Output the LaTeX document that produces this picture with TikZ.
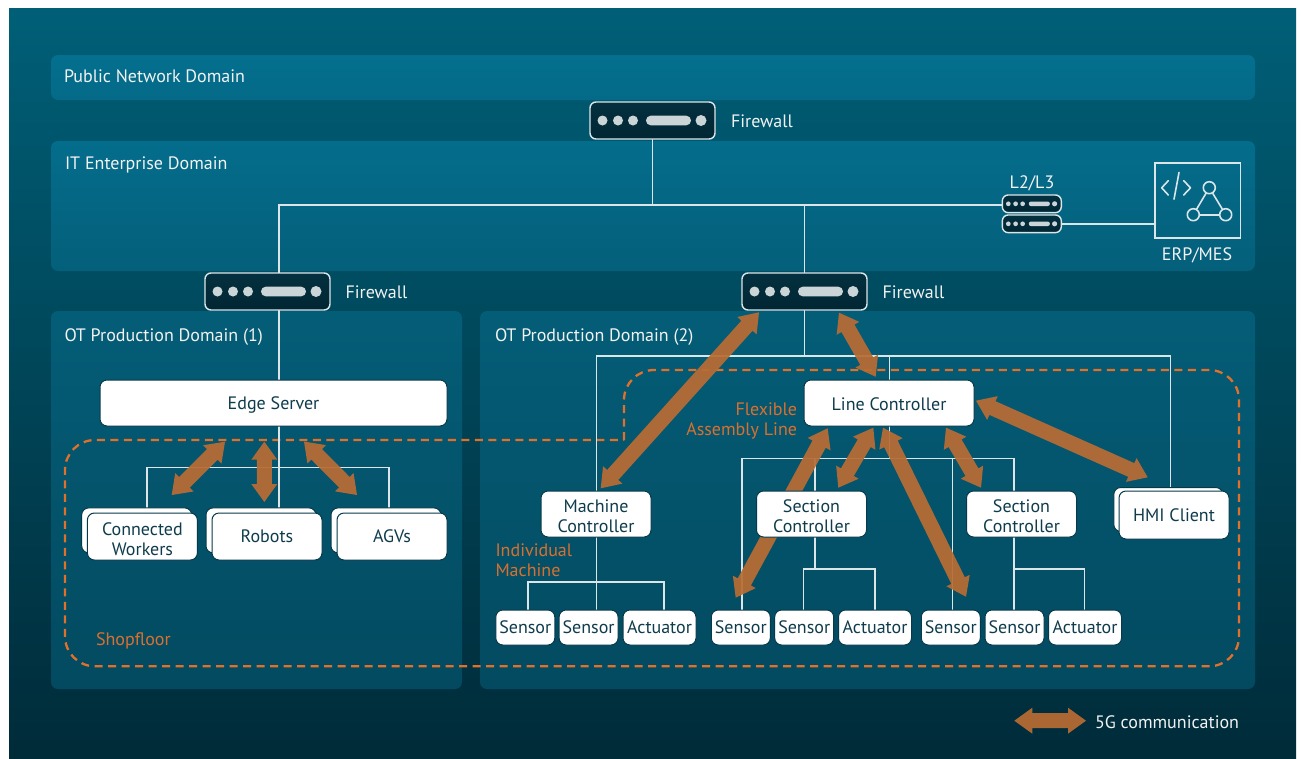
\documentclass[tikz,border=0pt]{standalone}
\usepackage{fontspec}
\setmainfont{PT Sans}
\usetikzlibrary{calc,backgrounds}
\definecolor{linecol}{HTML}{DCE6E9}
\definecolor{dotcol}{HTML}{CBD5D8}
\definecolor{inkcol}{HTML}{0F3C4D}
\definecolor{edgecol}{HTML}{06394A}
\definecolor{orangecol}{HTML}{E0702A}
\definecolor{labelorange}{HTML}{D9702F}
\definecolor{fivecol}{HTML}{B86C33}
\pgfdeclarelayer{bgl}\pgfdeclarelayer{linel}\pgfdeclarelayer{arrowl}
\pgfsetlayers{bgl,linel,arrowl,main}
\definecolor{ittop}{HTML}{046D8C}
\definecolor{itbot}{HTML}{045F7A}
\definecolor{devtop}{HTML}{04303F}
\definecolor{devbot}{HTML}{012633}
\definecolor{frametop}{HTML}{005F77}
\definecolor{framebot}{HTML}{002B39}
\definecolor{pubtop}{HTML}{046F8F}
\definecolor{pubbot}{HTML}{046A88}
\definecolor{ottop}{HTML}{045D77}
\definecolor{otbot}{HTML}{034A60}
\newcommand\lowA{\rule{0pt}{17.5pt}}
\newcommand\lowB{\rule{0pt}{15.5pt}}
\tikzset{
  panel/.style={rounded corners=7pt,anchor=north west,inner sep=0pt,outer sep=0pt},
  lbl/.style={font=\fontsize{18}{20}\selectfont,text=white!95!black,inner sep=0pt,outer sep=0pt},
  orangelbl/.style={font=\fontsize{18}{20}\selectfont,text=labelorange,inner sep=0pt,outer sep=0pt},
  wire/.style={draw=linecol,line width=1.4pt},
  whitebox/.style={draw=edgecol,fill=white,line width=1pt,rounded corners=7pt,inner sep=0pt,outer sep=0pt,
     align=center,text=inkcol,font=\fontsize{18}{20}\selectfont},
  devbox/.style={draw=linecol,line width=1.4pt,rounded corners=6pt,inner sep=0pt,outer sep=0pt,top color=devtop,bottom color=devbot},
  devmark/.style={fill=dotcol},
  icon/.style={draw=linecol,line width=1.6pt,line cap=round,line join=round},
  shop/.style={draw=orangecol,line width=2.3pt,dash pattern=on 8pt off 5.5pt},
  fiveg/.style={fill=fivecol,fill opacity=0.93,draw=none},
}
% box with coloured marks: name, x, y, w, h, scale
\newcommand\devicebox[6]{%
  \node[devbox,minimum width=#4pt,minimum height=#5pt] (#1) at (#2,#3) {};
  \begin{scope}[shift={(#1.center)},scale=#6]
    \fill[devmark] (-50,0) circle[radius=5] (-34.5,0) circle[radius=5] (-19.5,0) circle[radius=5] (48.5,0) circle[radius=5.5];
    \fill[devmark,rounded corners=#6*4.7pt] (-6.5,-4.8) rectangle (38.5,4.8);
  \end{scope}}
% double arrow between two named points
\newcommand\fivegarrow[2]{%
  \fill[fiveg]
    (#1)
    -- ($(#1)!18pt!(#2)!13pt!90:(#2)$)
    -- ($(#1)!18pt!(#2)!7.5pt!90:(#2)$)
    -- ($(#2)!18pt!(#1)!7.5pt!-90:(#1)$)
    -- ($(#2)!18pt!(#1)!13pt!-90:(#1)$)
    -- (#2)
    -- ($(#2)!18pt!(#1)!13pt!90:(#1)$)
    -- ($(#2)!18pt!(#1)!7.5pt!90:(#1)$)
    -- ($(#1)!18pt!(#2)!7.5pt!-90:(#2)$)
    -- ($(#1)!18pt!(#2)!13pt!-90:(#2)$)
    -- cycle;}
\begin{document}
\begin{tikzpicture}[x=1pt,y=-1pt]
\useasboundingbox (0,0) rectangle (1301,758);
\begin{pgfonlayer}{bgl}
  \fill[white] (0,0) rectangle (1301,758);
  \shade[top color=frametop,bottom color=framebot] (9,8) rectangle (1296,758);
  \node[panel,top color=pubtop,bottom color=pubbot,minimum width=1204pt,minimum height=45pt] (public) at (51,55) {};
  \node[panel,top color=ittop,bottom color=itbot,minimum width=1204pt,minimum height=130pt] (itdom) at (51,141) {};
  \node[panel,top color=ottop,bottom color=otbot,minimum width=411pt,minimum height=378pt] (ot1) at (51,311) {};
  \node[panel,top color=ottop,bottom color=otbot,minimum width=775pt,minimum height=378pt] (ot2) at (480,311) {};
\end{pgfonlayer}

% labels
\node[lbl,anchor=west] (tpublic) at (64,76) {Public Network Domain};
\node[lbl,anchor=west] (tit) at (65,165) {IT Enterprise Domain};
\node[lbl,anchor=west] (tot1) at (64.5,337) {OT Production Domain (1)};
\node[lbl,anchor=west] (tot2) at (495,337) {OT Production Domain (2)};
\node[lbl,anchor=west] (tfw0) at (731,121.5) {Firewall};
\node[lbl,anchor=west] (tfw1) at (345.5,292.5) {Firewall};
\node[lbl,anchor=west] (tfw2) at (882.5,292.5) {Firewall};
\node[lbl] (tl2) at (1032,183) {L2/L3};
\node[lbl] (terp) at (1197,255) {ERP/MES};
\node[lbl,anchor=west] (t5g) at (1095,722) {5G communication};
\node[orangelbl,anchor=west] (tshop) at (96,641) {Shopfloor};
\node[orangelbl,align=right,anchor=east] (tflex) at (797,421) {Flexible\\Assembly Line};
\node[orangelbl,align=left,anchor=west] (tind) at (495.5,560) {Individual\\Machine};

% devices
\devicebox{fw0}{652.5}{120.5}{125}{37}{1}
\devicebox{fw1}{267.5}{291.5}{125}{37}{1}
\devicebox{fw2}{804.5}{291.5}{125}{37}{1}
\devicebox{swa}{1031.8}{203.8}{59}{17.7}{0.47}
\devicebox{swb}{1031.8}{223.8}{59}{17.7}{0.47}

% ERP box
\node[draw=linecol,line width=1.6pt,minimum width=85.6pt,minimum height=75pt,inner sep=0pt,outer sep=0pt] (erp) at (1197.5,200.2) {};
\draw[icon] (1168.3,180.7) -- (1161.7,187.8) -- (1168.3,195);
\draw[icon] (1183.7,180.7) -- (1190.5,187.8) -- (1183.7,195);
\draw[icon] (1179,172.5) -- (1174,199.2);
\node[icon,circle,minimum size=12pt,inner sep=0pt] (ca) at (1209.3,187.7) {};
\node[icon,circle,minimum size=12pt,inner sep=0pt] (cb) at (1193.3,214.7) {};
\node[icon,circle,minimum size=12pt,inner sep=0pt] (cc) at (1225.7,214.7) {};
\draw[icon] (ca) -- (cb); \draw[icon] (cb) -- (cc); \draw[icon] (cc) -- (ca);

% white boxes
\node[whitebox,minimum width=347pt,minimum height=46pt] (edge) at (273.5,403) {\lowA Edge Server};
\node[whitebox,minimum width=110pt,minimum height=45pt] (workersb) at (136.7,530.4) {};
\node[whitebox,minimum width=110pt,minimum height=47pt] (workers) at (142.4,536.5) {\lowA Connected\\Workers};
\node[whitebox,minimum width=110pt,minimum height=45pt] (robotsb) at (261,530.4) {};
\node[whitebox,minimum width=110pt,minimum height=47pt] (robots) at (267,536.5) {Robots};
\node[whitebox,minimum width=110pt,minimum height=45pt] (agvsb) at (386,530.4) {};
\node[whitebox,minimum width=110pt,minimum height=47pt] (agvs) at (392,536.5) {AGVs};
\node[whitebox,minimum width=170pt,minimum height=46pt] (line) at (889,403) {\lowB Line Controller};
\node[whitebox,minimum width=110pt,minimum height=46pt] (mc) at (596,514) {\lowA Machine\\Controller};
\node[whitebox,minimum width=110pt,minimum height=46pt] (sc1) at (811.5,514) {\lowA Section\\Controller};
\node[whitebox,minimum width=110pt,minimum height=46pt] (sc2) at (1021.5,514) {\lowA Section\\Controller};
\node[whitebox,minimum width=109pt,minimum height=44pt] (hmib) at (1168.3,509.5) {};
\node[whitebox,minimum width=110pt,minimum height=48pt] (hmi) at (1174,515) {HMI Client};
\tikzset{sens/.style={whitebox,minimum width=59pt,minimum height=35pt},actu/.style={whitebox,minimum width=73pt,minimum height=35pt}}
\node[sens] (s1) at (525.3,627.5) {Sensor};
\node[sens] (s2) at (588.6,627.5) {Sensor};
\node[actu] (a1) at (659.5,627.5) {Actuator};
\node[sens] (s3) at (740.8,627.5) {Sensor};
\node[sens] (s4) at (804.2,627.5) {Sensor};
\node[actu] (a2) at (875,627.5) {Actuator};
\node[sens] (s5) at (950.8,627.5) {Sensor};
\node[sens] (s6) at (1014.5,627.5) {Sensor};
\node[actu] (a3) at (1085,627.5) {Actuator};

% rails
\coordinate (ritroot) at (652.5,205);
\coordinate (ritl) at (279,205);
\coordinate (ritr) at (804.3,205);
\coordinate (redge) at (147,467.7);
\coordinate (redgem) at (279,467.7);
\coordinate (redger) at (389,467.7);
\coordinate (rot) at (804.3,356);
\coordinate (rotl) at (596.6,356);
\coordinate (rotm) at (889.3,356);
\coordinate (rotr) at (1170.7,356);
\coordinate (rline) at (889.3,458.5);
\coordinate (rlinea) at (742,458.5);
\coordinate (rlineb) at (815,458.5);
\coordinate (rlinec) at (952.5,458.5);
\coordinate (rlined) at (1013.8,458.5);
\coordinate (rmc) at (596.6,582);
\coordinate (rmca) at (528,582);
\coordinate (rmcb) at (663.8,582);
\coordinate (rsc1) at (815,569);
\coordinate (rsc1a) at (803.3,569);
\coordinate (rsc1b) at (875,569);
\coordinate (rsc2) at (1013.8,569);
\coordinate (rsc2b) at (1084.7,569);

\begin{pgfonlayer}{linel}
  % shopfloor boundary
  \draw[shop,rounded corners=30pt] (624,440) -- (624,370) -- (1239,370) -- (1239,666.3) -- (65,666.3) -- (65,440) [sharp corners] -- (624,440);
  % IT domain
  \draw[wire] (fw0.south -| ritroot) -- (ritroot);
  \draw[wire] (fw1.north -| ritl) |- (swa.west |- ritl);
  \draw[wire] (ritr) -- (fw2.north -| ritr);
  \draw[wire] (swb.east) -- (erp.west |- swb.east);
  % OT 1
  \draw[wire] (fw1.south -| ritl) -- (edge.north -| ritl);
  \draw[wire] (edge.south -| redgem) -- (robotsb.north -| redgem);
  \draw[wire] (workersb.north -| redge) |- (redgem) -| (agvsb.north -| redger);
  % OT 2
  \draw[wire] (fw2.south -| rot) -- (rot);
  \draw[wire] (mc.north -| rotl) |- (rotr) -- (hmib.north -| rotr);
  \draw[wire] (rotm) -- (line.north -| rotm);
  \draw[wire] (line.south -| rline) -- (rline);
  \draw[wire] (s3.north -| rlinea) |- (rlined) -- (sc2.north -| rlined);
  \draw[wire] (rlineb) -- (sc1.north -| rlineb);
  \draw[wire] (rlinec) -- (s5.north -| rlinec);
  \draw[wire] (mc.south -| rmc) -- (s2.north -| rmc);
  \draw[wire] (s1.north -| rmca) |- (rmc) -| (a1.north -| rmcb);
  \draw[wire] (sc1.south -| rsc1) -- (rsc1);
  \draw[wire] (s4.north -| rsc1a) |- (rsc1b) -- (a2.north -| rsc1b);
  \draw[wire] (sc2.south -| rsc2) -- (s6.north -| rsc2);
  \draw[wire] (rsc2) -| (a3.north -| rsc2b);
\end{pgfonlayer}

% 5G arrow ends
\coordinate (e1a) at (225,441.7); \coordinate (e1b) at (171.7,495);
\coordinate (e2a) at (264.3,441.7); \coordinate (e2b) at (264.3,502);
\coordinate (e3a) at (304,441.5); \coordinate (e3b) at (357,495);
\coordinate (e4a) at (759,312.3); \coordinate (e4b) at (600.7,488.3);
\coordinate (e5a) at (839,312.7); \coordinate (e5b) at (875.7,376.7);
\coordinate (e6a) at (827.7,428.3); \coordinate (e6b) at (735.7,597.7);
\coordinate (e7a) at (873.3,427.7); \coordinate (e7b) at (838.3,487.7);
\coordinate (e8a) at (883,427.7); \coordinate (e8b) at (966,596.7);
\coordinate (e9a) at (946,427.7); \coordinate (e9b) at (981,487.7);
\coordinate (e10a) at (976,400.7); \coordinate (e10b) at (1147.7,477.3);
\coordinate (e11a) at (1014.3,720.7); \coordinate (e11b) at (1086,720.7);
\begin{pgfonlayer}{arrowl}
  \fivegarrow{e1a}{e1b}
  \fivegarrow{e2a}{e2b}
  \fivegarrow{e3a}{e3b}
  \fivegarrow{e4a}{e4b}
  \fivegarrow{e5a}{e5b}
  \fivegarrow{e6a}{e6b}
  \fivegarrow{e7a}{e7b}
  \fivegarrow{e8a}{e8b}
  \fivegarrow{e9a}{e9b}
  \fivegarrow{e10a}{e10b}
  \fivegarrow{e11a}{e11b}
\end{pgfonlayer}
\end{tikzpicture}
\end{document}
